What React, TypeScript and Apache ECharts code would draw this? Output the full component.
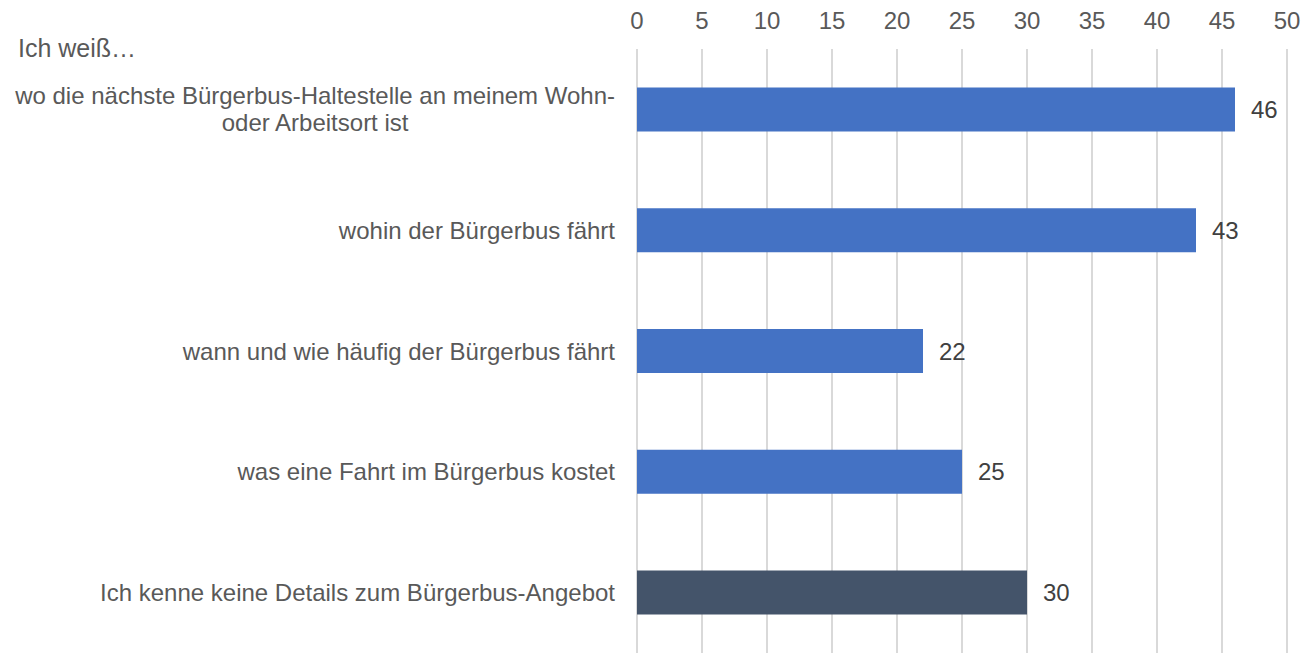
import React, { useEffect, useRef } from "react";
import * as echarts from "echarts";

const categories = [
  "wo die nächste Bürgerbus-Haltestelle an meinem Wohn-\noder Arbeitsort ist",
  "wohin der Bürgerbus fährt",
  "wann und wie häufig der Bürgerbus fährt",
  "was eine Fahrt im Bürgerbus kostet",
  "Ich kenne keine Details zum Bürgerbus-Angebot",
];
const values = [46, 43, 22, 25, 30];
const barColors = ["#4472C4", "#4472C4", "#4472C4", "#4472C4", "#44546A"];
const titleText = "Ich weiß…";
const axisMin = 0;
const axisMax = 50;
const axisStep = 5;

export default function App() {
  const ref = useRef<HTMLDivElement>(null);
  useEffect(() => {
    if (!ref.current) return;
    const chart = echarts.init(ref.current, null, { renderer: "svg" });
    const font = "'Liberation Sans', Arial, sans-serif";
    chart.setOption({
      animation: false,
      backgroundColor: "#ffffff",
      title: {
        text: titleText,
        left: 13,
        top: 30,
        textStyle: { fontFamily: font, fontSize: 25, fontWeight: "normal", color: "#595959" },
      },
      grid: { left: 637, top: 49, width: 650, height: 608, containLabel: false },
      xAxis: {
        type: "value",
        position: "top",
        min: axisMin,
        max: axisMax,
        interval: axisStep,
        axisLine: { show: false },
        axisTick: { show: false },
        splitLine: { show: true, lineStyle: { color: "#D9D9D9", width: 2 } },
        axisLabel: { fontFamily: font, fontSize: 24, color: "#595959", margin: 17 },
      },
      yAxis: {
        type: "category",
        inverse: true,
        data: categories,
        axisLine: { show: false },
        axisTick: { show: false },
        axisLabel: {
          margin: 22,
          fontFamily: font,
          fontSize: 24,
          color: "#595959",
          lineHeight: 27,
          formatter: (v: string) =>
            v
              .split("\n")
              .map((l) => "{c|" + l + "}")
              .join("\n"),
          rich: {
            c: { fontFamily: font, fontSize: 24, color: "#595959", lineHeight: 27, align: "center" },
          },
        },
      },
      series: [
        {
          type: "bar",
          barWidth: 44,
          data: values.map((v, i) => ({ value: v, itemStyle: { color: barColors[i] } })),
          label: {
            show: true,
            position: "right",
            distance: 16,
            fontFamily: font,
            fontSize: 24,
            color: "#404040",
          },
        },
      ],
    });
    return () => chart.dispose();
  }, []);
  return (
    <div
      ref={ref}
      style={{ position: "fixed", left: 0, top: 0, width: 1306, height: 653 }}
    />
  );
}
